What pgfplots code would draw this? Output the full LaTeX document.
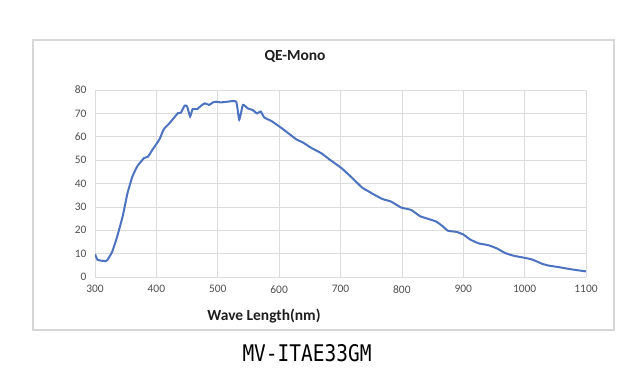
\documentclass[border=0pt]{standalone}
\usepackage{fontspec}
\setmainfont{Carlito}
\newfontfamily\codefont[FakeStretch=0.85]{DejaVu Sans Mono}
\usepackage{pgfplots}
\usepackage{pgfplotstable}
\pgfplotsset{compat=1.18}
\definecolor{qeblue}{RGB}{76,114,192}
\definecolor{gridgray}{RGB}{220,220,220}
\definecolor{ticktext}{RGB}{80,80,80}
\definecolor{boxgray}{RGB}{215,215,215}
\definecolor{titletext}{RGB}{30,30,30}

\pgfplotstableread{
nm qe
300 9.8
304 7.4
310 7.0
317 6.8
320 7.2
328 10.8
336 17.2
345 25.9
353 35.9
361 43.0
369 47.4
380 50.9
386 51.4
394 54.6
405 58.9
412 63.2
421 65.7
429 68.2
435 70.1
440 70.3
446 73.3
450 73.0
455 68.7
459 71.8
466 71.8
473 73.3
479 74.3
486 73.6
492 74.7
497 75.0
505 74.7
516 75.0
530 75.0
535 67.3
541 73.6
549 72.1
557 71.4
564 70.0
570 70.8
576 68.2
587 66.8
603 63.9
617 61.1
628 58.9
639 57.5
652 55.3
669 52.9
682 50.3
701 46.7
717 42.9
735 38.3
744 36.9
755 35.2
769 33.3
782 32.3
799 29.7
815 28.7
829 26.1
840 25.1
856 23.7
867 21.6
875 19.8
889 19.3
900 18.2
911 16.1
925 14.4
941 13.6
955 12.2
968 10.3
982 9.1
998 8.3
1012 7.5
1028 5.7
1039 4.9
1056 4.2
1078 3.2
1100 2.4
}\qedata

\begin{document}
\begin{tikzpicture}[x=1bp,y=1bp]
\fill[white] (0,0) rectangle (638,374);
\draw[boxgray, line width=1.3bp] (33,44) rectangle (614,334);
\begin{axis}[
  at={(95bp,97bp)}, anchor=south west,
  scale only axis, width=491bp, height=187bp,
  xmin=300, xmax=1100, ymin=0, ymax=80,
  xtick={300,400,...,1100}, ytick={0,10,...,80},
  grid=major,
  major grid style={gridgray, line width=0.7bp},
  axis line style={draw=none},
  tick style={draw=none},
  ticklabel style={font=\fontsize{11.5}{13}\selectfont, text=ticktext},
  /pgf/number format/assume math mode=true,
  /pgf/number format/1000 sep={},
  xticklabel style={yshift=-5bp},
  yticklabel style={xshift=-5bp},
]
\addplot[qeblue, line width=2bp, smooth, tension=0.3] table[x=nm, y=qe] {\qedata};
\end{axis}
\node[font=\bfseries\fontsize{15.5}{18}\selectfont, text=titletext] at (295,318) {QE-Mono};
\node[font=\bfseries\fontsize{15.5}{18}\selectfont, text=titletext] at (264,58) {Wave Length(nm)};
\node[font=\codefont\fontsize{23}{26}\selectfont, text=black] at (307,21) {MV-ITAE33GM};
\end{tikzpicture}
\end{document}
